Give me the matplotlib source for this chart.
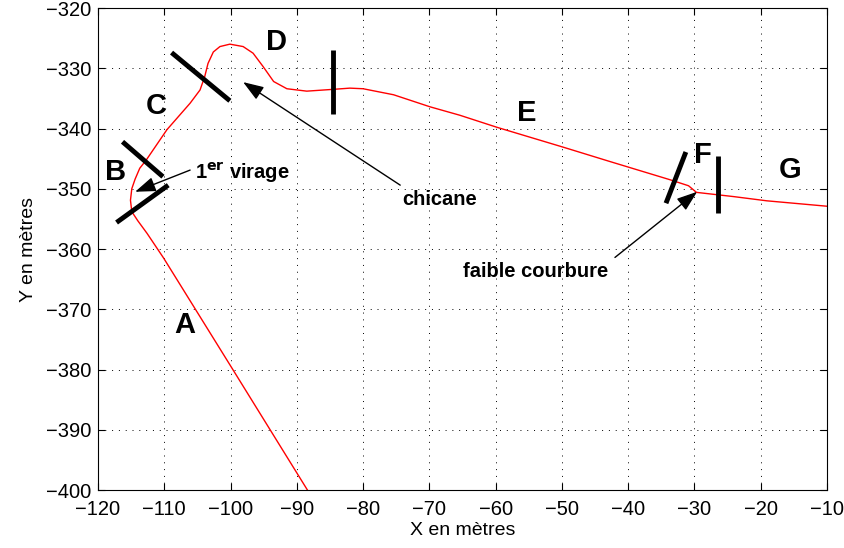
import numpy as np
import matplotlib
matplotlib.use("Agg")
import matplotlib.pyplot as plt

plt.rcParams['font.family'] = ['Liberation Sans', 'DejaVu Sans']

# track centre line (metres)
track_x = [-88.4, -99.6, -110.1, -112.6, -114.0, -114.9, -115.1, -114.9, -114.4,
           -113.7, -112.7, -109.6, -106.1, -104.6, -103.9, -103.4, -102.6, -101.6,
           -100.1, -98.1, -96.6, -95.1, -93.5, -91.5, -88.5, -84.5, -82.0, -80.0,
           -75.4, -69.9, -65.4, -59.8, -49.8, -42.7, -33.7, -30.9, -29.7, -24.1,
           -19.1, -10.0]
track_y = [-400.0, -380.1, -361.5, -357.4, -355.3, -353.8, -351.9, -350.0, -348.4,
           -346.6, -345.2, -340.2, -335.8, -333.6, -331.4, -329.2, -327.3, -326.4,
           -326.0, -326.4, -327.5, -329.7, -332.2, -333.4, -333.8, -333.5, -333.3, -333.4,
           -334.4, -336.4, -337.8, -339.8, -343.1, -345.5, -348.5, -349.5, -350.6, -351.3,
           -352.0, -352.9]

# segment boundaries (x0, x1, y0, y1)
cut_x0 = [-117.2, -116.3, -108.9, -84.5, -31.3, -26.5]
cut_x1 = [-109.4, -110.2, -100.1, -84.5, -34.3, -26.5]
cut_y0 = [-355.6, -342.2, -327.4, -326.9, -343.9, -344.5]
cut_y1 = [-349.4, -348.0, -335.4, -337.6, -352.4, -354.0]

seg_names = ["A", "B", "C", "D", "E", "F", "G"]
seg_x = [-106.9, -117.3, -111.2, -93.0, -55.3, -28.7, -15.6]
seg_y = [-372.6, -347.2, -336.3, -325.6, -337.4, -344.4, -346.9]

# annotations: text, text position, arrow tail, arrow head
note_txt = [r"1$^{\mathbf{er}}$ virage", "chicane", "faible courbure"]
note_x = [-105.4, -68.4, -53.9]
note_y = [-347.4, -351.8, -363.8]
tail_x = [-106.1, -74.4, -42.0]
tail_y = [-346.9, -349.4, -361.4]
head_x = [-114.4, -98.1, -29.6]
head_y = [-350.5, -332.3, -350.5]
note_ha = ["left", "center", "center"]

fig = plt.figure(figsize=(8.44, 5.48), dpi=100)
ax = fig.add_axes([0.1161, 0.1058, 0.8638, 0.8796])

ax.plot(track_x, track_y, color='r', lw=1)

for i in range(len(cut_x0)):
    ax.plot([cut_x0[i], cut_x1[i]], [cut_y0[i], cut_y1[i]], color='k', lw=3.5,
            solid_capstyle='butt')

for i in range(len(seg_names)):
    ax.text(seg_x[i], seg_y[i], seg_names[i], fontsize=21, fontweight='bold',
            ha='center', va='center')

for i in range(len(note_txt)):
    ax.annotate("", xy=(head_x[i], head_y[i]), xytext=(tail_x[i], tail_y[i]),
                arrowprops=dict(arrowstyle='-|>,head_length=0.7,head_width=0.25',
                                color='k', lw=1, mutation_scale=18,
                                shrinkA=0, shrinkB=0))
    ax.text(note_x[i], note_y[i], note_txt[i], fontsize=14.5, fontweight='bold',
            ha=note_ha[i], va='center')

ax.set_xlim(-120, -10)
ax.set_ylim(-400, -320)
ax.set_xticks(np.arange(-120, -9, 10))
ax.set_yticks(np.arange(-400, -319, 10))
ax.tick_params(direction='in', top=True, right=True, labelsize=14.5, length=5)
ax.tick_params(axis='x', pad=7)
ax.tick_params(axis='y', pad=5)
ax.grid(True, color='k', linestyle=(0, (1, 6)), lw=0.7)
ax.set_xlabel("X en mètres", fontsize=14, labelpad=2)
ax.set_ylabel("Y en mètres", fontsize=14, labelpad=6)

fig.savefig("out.png", dpi=100)
